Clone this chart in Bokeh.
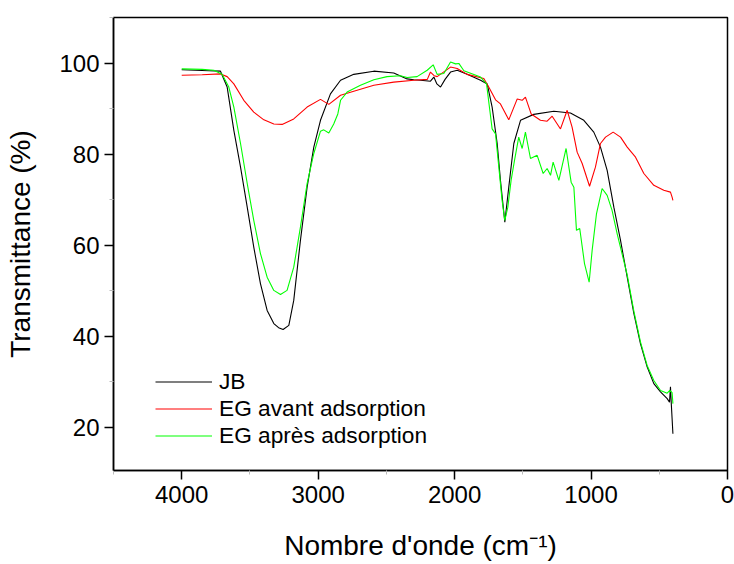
from bokeh.plotting import figure
from bokeh.models import Legend, LegendItem, FixedTicker, Range1d
from bokeh.embed import file_html
from bokeh.resources import INLINE

# ---- data ----
jb_x = [4000, 3900, 3800, 3716, 3667, 3618, 3569, 3520, 3472, 3423, 3374, 3325, 3290, 3257,
        3215, 3179, 3130, 3081, 3032, 2983, 2910, 2836, 2739, 2592, 2446, 2348, 2299, 2250,
        2177, 2152, 2130, 2103, 2070, 2030, 1981, 1908, 1810, 1761, 1725, 1688, 1664, 1632,
        1603, 1566, 1517, 1420, 1273, 1151, 1053, 980, 931, 882, 833, 784, 735, 686, 638,
        589, 540, 491, 442, 425, 418, 412, 400]
jb_y = [98.6, 98.5, 98.4, 98.3, 94.8, 85.3, 77.2, 68.4, 59.6, 51.6, 45.7, 42.8, 41.9, 41.5,
        42.4, 47.9, 61.1, 72.8, 81.6, 87.5, 93.3, 96.3, 97.6, 98.3, 97.9, 96.6, 96.4, 96.3,
        96.1, 97.0, 95.5, 94.8, 96.5, 98.1, 98.5, 97.6, 96.3, 95.5, 90.4, 82.4, 74.3, 65.1,
        72.8, 82.4, 87.5, 88.8, 89.5, 89.1, 87.5, 84.9, 81.6, 76.5, 68.4, 61.1, 53.0, 45.0,
        38.4, 33.3, 29.6, 27.8, 26.3, 25.5, 28.9, 25.2, 18.6]

avant_x = [4000, 3850, 3716, 3667, 3618, 3545, 3472, 3398, 3325, 3264, 3179, 3081, 2983, 2922,
           2836, 2739, 2592, 2446, 2299, 2200, 2177, 2150, 2128, 2030, 1981, 1908, 1786, 1750,
           1700, 1664, 1603, 1541, 1505, 1481, 1439, 1371, 1322, 1285, 1224, 1175, 1139, 1102,
           1065, 1011, 968, 931, 894, 838, 784, 735, 674, 613, 540, 467, 418, 406, 400]
avant_y = [97.4, 97.5, 97.7, 97.1, 95.5, 91.9, 89.3, 87.6, 86.7, 86.6, 87.8, 90.4, 92.1, 91.0,
           93.0, 93.9, 95.2, 95.9, 96.3, 96.5, 98.1, 97.3, 97.1, 99.2, 98.9, 97.6, 96.7, 94.8,
           92.0, 91.1, 87.6, 92.2, 91.9, 92.6, 88.9, 87.5, 87.3, 88.4, 85.6, 89.7, 86.0, 80.5,
           78.0, 73.0, 77.2, 82.4, 83.8, 84.9, 83.8, 81.6, 79.4, 75.8, 73.2, 72.1, 71.7, 70.6, 69.9]

apres_x = [4000, 3850, 3765, 3704, 3655, 3618, 3569, 3520, 3472, 3423, 3374, 3325, 3276, 3228,
           3179, 3130, 3081, 3032, 2983, 2959, 2922, 2886, 2856, 2836, 2788, 2690, 2592, 2495,
           2397, 2348, 2275, 2201, 2157, 2128, 2079, 2030, 1993, 1969, 1932, 1810, 1766, 1742,
           1725, 1700, 1676, 1652, 1632, 1610, 1586, 1561, 1530, 1505, 1481, 1444, 1395, 1351,
           1322, 1297, 1278, 1236, 1183, 1146, 1126, 1107, 1083, 1048, 1014, 992, 960, 919,
           882, 846, 809, 735, 686, 638, 589, 540, 491, 442, 423, 406, 400]
apres_y = [98.8, 98.7, 98.5, 97.6, 94.8, 90.4, 82.4, 73.6, 65.5, 58.2, 53.0, 50.1, 49.2, 50.1,
           55.2, 64.0, 73.6, 80.2, 85.1, 85.4, 84.7, 86.7, 88.9, 91.9, 93.7, 95.2, 96.4, 97.1,
           97.3, 96.9, 97.1, 98.5, 99.7, 97.6, 97.8, 100.3, 99.9, 100.0, 98.4, 97.0, 95.5, 89.7,
           85.6, 84.5, 77.2, 69.9, 65.5, 68.4, 74.3, 78.7, 83.8, 81.3, 84.9, 79.1, 79.8, 75.8,
           76.9, 75.4, 78.3, 74.3, 81.3, 73.9, 72.8, 63.3, 63.7, 56.0, 51.9, 58.9, 67.0, 72.5,
           71.0, 67.7, 62.6, 53.5, 45.5, 38.8, 33.6, 30.3, 28.1, 27.5, 28.1, 27.6, 25.2]

series_labels = ["JB", "EG avant adsorption", "EG après adsorption"]
x_ticks = [0, 1000, 2000, 3000, 4000]
x_minor = [500, 1500, 2500, 3500, 4500]
y_ticks = [20, 40, 60, 80, 100]
y_minor = [10, 30, 50, 70, 90, 110]

FONT = "Liberation Sans"

p = figure(width=734, height=564, output_backend="svg", toolbar_location=None,
           x_range=Range1d(4500, 0), y_range=Range1d(10.5, 110.1),
           min_border_left=113, min_border_right=7, min_border_top=17, min_border_bottom=94)
p.grid.visible = False
p.outline_line_color = "black"
p.outline_line_width = 1.5
p.background_fill_color = "white"
p.border_fill_color = "white"

r1 = p.line(jb_x, jb_y, line_color="black", line_width=1.1)
r2 = p.line(avant_x, avant_y, line_color="#ff0000", line_width=1.1)
r3 = p.line(apres_x, apres_y, line_color="#00ff00", line_width=1.1)

p.xaxis.ticker = FixedTicker(ticks=x_ticks, minor_ticks=x_minor)
p.yaxis.ticker = FixedTicker(ticks=y_ticks, minor_ticks=y_minor)

for ax in (p.xaxis[0], p.yaxis[0]):
    ax.axis_line_width = 1.5
    ax.axis_line_color = "black"
    ax.major_tick_line_width = 1.5
    ax.major_tick_out = 9
    ax.major_tick_in = 0
    ax.minor_tick_out = 4
    ax.minor_tick_in = 0
    ax.minor_tick_line_color = "#bbbbbb"
    ax.major_label_text_font = FONT
    ax.major_label_text_font_size = "24px"
    ax.major_label_text_color = "black"
    ax.axis_label_text_font = FONT
    ax.axis_label_text_font_style = "normal"
    ax.axis_label_text_color = "black"
    ax.axis_label_text_font_size = "28px"

p.xaxis.axis_label = "Nombre d'onde (cm⁻¹)"
p.yaxis.axis_label = "Transmittance (%)"
p.xaxis.major_label_standoff = 6
p.yaxis.major_label_standoff = 5
p.xaxis.axis_label_standoff = 24
p.yaxis.axis_label_standoff = 20

legend = Legend(items=[LegendItem(label=series_labels[0], renderers=[r1]),
                       LegendItem(label=series_labels[1], renderers=[r2]),
                       LegendItem(label=series_labels[2], renderers=[r3])],
                location=(42, 21), orientation="vertical",
                label_text_font=FONT, label_text_font_size="22.7px",
                label_text_color="black",
                glyph_width=57, glyph_height=27, label_height=27, label_standoff=7,
                spacing=0, padding=0, margin=0,
                border_line_alpha=0, background_fill_alpha=0)
p.add_layout(legend, "center")

open("out.html", "w").write(file_html(p, INLINE))
